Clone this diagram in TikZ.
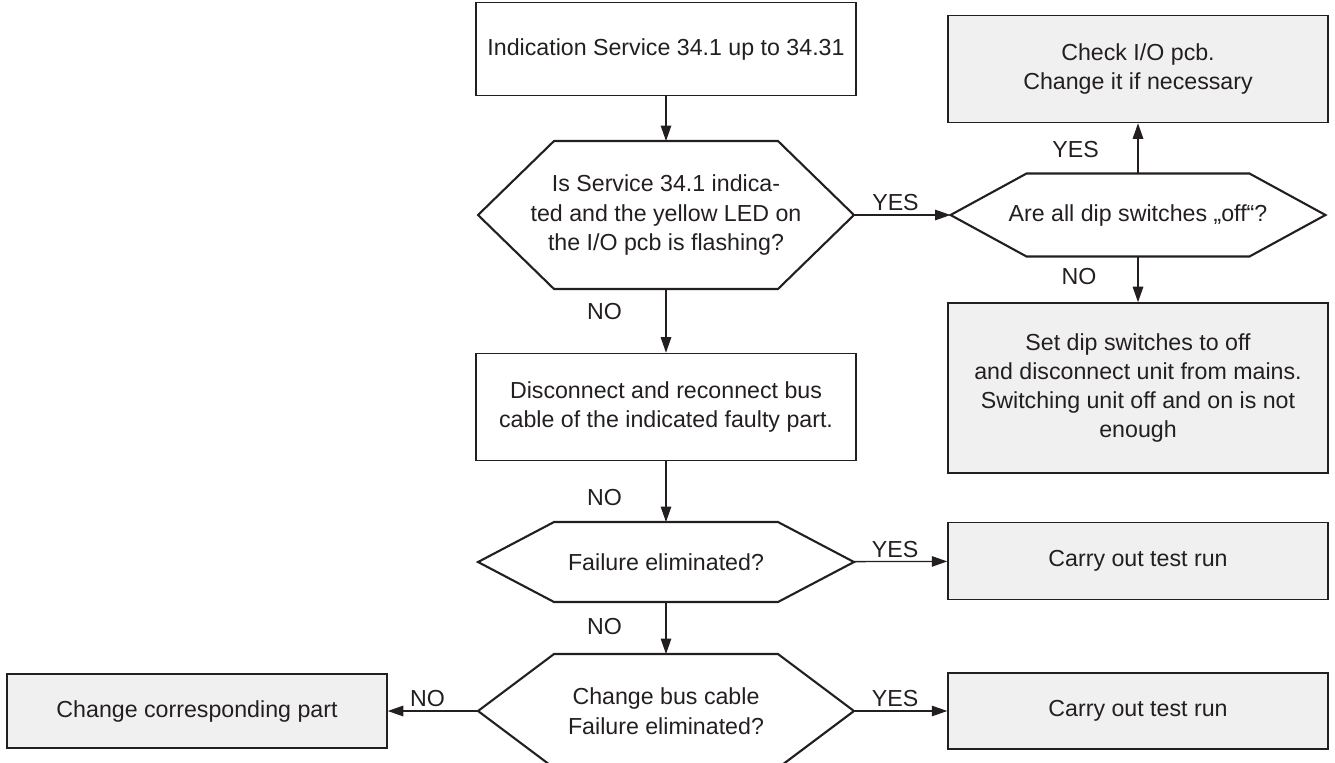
\documentclass[tikz,border=0pt]{standalone}
\usepackage{fontspec}
\setmainfont{Liberation Sans}
\usetikzlibrary{arrows.meta}

\definecolor{ink}{HTML}{231F20}
\definecolor{panel}{HTML}{F0F0F0}

\begin{document}
\begin{tikzpicture}[x=0.02cm,y=-0.02cm,>={Triangle[length=3.1mm,width=2.1mm]},
    every node/.style={text=ink,font=\fontsize{13.2}{17}\selectfont},
    box/.style={draw=ink,line width=.9pt,minimum width=7.6cm,align=center},
    shaded/.style={box,fill=panel},
    ask/.style={minimum width=7.52cm,outer sep=0pt,align=center},
    flow/.style={draw=ink,line width=.75pt,->},
    lbl/.style={inner sep=2pt}]
    \path[use as bounding box,clip] (0,0) rectangle (1335,762);

    % main column
    \node[box,minimum height=1.86cm] (start) at (666,49) {Indication Service 34.1 up to 34.31};
    \node[ask,minimum height=2.96cm] (q1) at (666,215)
        {Is Service 34.1 indica-\\ted and the yellow LED on\\the I/O pcb is flashing?};
    \node[box,minimum height=2.14cm] (reconnect) at (666,407)
        {Disconnect and reconnect bus\\cable of the indicated faulty part.};
    \node[ask,minimum height=1.6cm] (q3) at (666,562) {Failure eliminated?};
    \node[ask,minimum height=2.28cm] (q4) at (666,711) {Change bus cable\\Failure eliminated?};

    % right column
    \node[shaded,minimum height=2.14cm] (check) at (1138,69) {Check I/O pcb.\\Change it if necessary};
    \node[ask,minimum width=7.5cm,minimum height=1.66cm] (q2) at (1138,215) {Are all dip switches „off“?};
    \node[shaded,minimum height=3.4cm,font=\fontsize{13.2}{16.5}\selectfont] (setdip) at (1138,388)
        {Set dip switches to off\\and disconnect unit from mains.\\Switching unit off and on is not\\enough};
    \node[shaded,minimum height=1.54cm] (run1) at (1138,561) {Carry out test run};
    \node[shaded,minimum height=1.52cm] (run2) at (1138,711) {Carry out test run};

    % left
    \node[shaded,minimum height=1.48cm] (part) at (197,711) {Change corresponding part};

    % hexagon outlines around the questions
    \foreach \q in {q1,q2,q3,q4}
        \draw[ink,line width=1.2pt] (\q.west) -- ([xshift=1.52cm]\q.north west)
            -- ([xshift=-1.52cm]\q.north east) -- (\q.east)
            -- ([xshift=-1.52cm]\q.south east) -- ([xshift=1.52cm]\q.south west) -- cycle;

    \draw[flow] (start) -- (q1);
    \draw[flow] (q1) -- node[lbl,pos=.35,left=.8cm] {NO} (reconnect);
    \draw[flow] (reconnect) -- node[lbl,pos=.6,left=.8cm] {NO} (q3);
    \draw[flow] (q3) -- node[lbl,pos=.48,left=.8cm] {NO} (q4);
    \draw[flow] (q1) -- node[lbl,pos=.43,above] {YES} (q2);
    \draw[flow] (q2) -- node[lbl,pos=.47,left=.7cm] {YES} (check);
    \draw[flow] (q2) -- node[lbl,pos=.43,left=.75cm] {NO} (setdip);
    \draw[flow] (q3) -- node[lbl,pos=.44,above] {YES} (run1);
    \draw[flow] (q4) -- node[lbl,pos=.44,above] {YES} (run2);
    \draw[flow] (q4) -- node[lbl,pos=.56,above] {NO} (part);
\end{tikzpicture}
\end{document}
